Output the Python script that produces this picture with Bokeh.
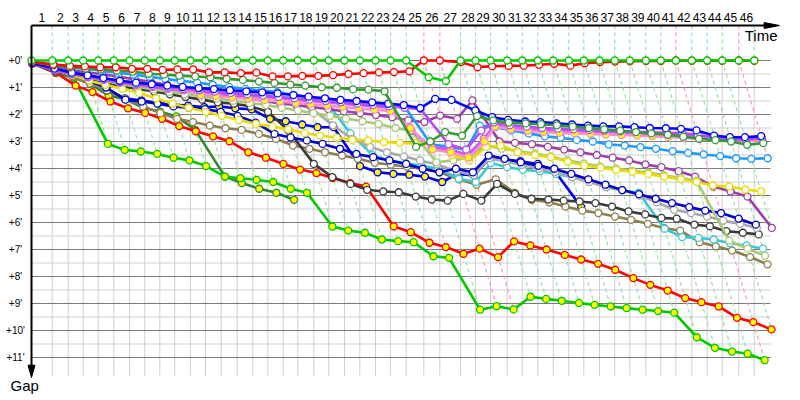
from bokeh.plotting import figure
from bokeh.models import Range1d, ColumnDataSource
from bokeh.embed import file_html
from bokeh.resources import INLINE
from bokeh.core.properties import value

# ---------------- data ----------------
# leader lap completion times (minutes from start), lap 0..46
LAP_TIME = [0.0, 2.59, 4.59, 6.46, 8.34, 10.29, 12.25, 14.16, 16.04, 17.91, 19.88,
            21.75, 23.71, 25.71, 27.66, 29.54, 31.46, 33.29, 35.29, 37.16, 39.13,
            41.04, 43.0, 44.88, 46.84, 49.04, 51.04, 53.63, 55.5, 57.38, 59.46,
            61.34, 63.29, 65.21, 67.16, 69.04, 71.0, 72.91, 74.79, 76.79, 78.66,
            80.54, 82.54, 84.46, 86.34, 88.41, 90.34]
LAP_LABELS = [str(k) for k in range(1, 47)]
RED_LAPS = [25, 26, 41, 45]
GAP_TICKS = list(range(0, 12))
GAP_LABELS = ["+%d'" % g for g in GAP_TICKS]

# gap to leader (minutes) at the end of each lap, lap 0..last
GAP_LEADER = [0.0] * 25 + [0.62, 0.76] + [0.0] * 20
GAP_RED = [0.05, 0.15, 0.2, 0.22, 0.25, 0.25, 0.31, 0.31, 0.35, 0.33, 0.33, 0.44, 0.44,
           0.47, 0.45, 0.59, 0.59, 0.57, 0.57, 0.54, 0.5, 0.47, 0.44, 0.43, 0.4, 0.0,
           0.0, 0.06, 0.25, 0.21, 0.2, 0.19, 0.16, 0.12, 0.19, 0.1, 0.06, 0.04, 0.03,
           0.02, 0.02, 0.0, 0.01, 0.01, 0.01, 0.0, 0.01]
GAP_DKGREEN = [0.05, 0.18, 0.25, 0.3, 0.33, 0.37, 0.41, 0.49, 0.52, 0.56, 0.59, 0.62,
               0.68, 0.72, 0.78, 0.83, 0.89, 0.93, 0.99, 1.01, 1.07, 1.08, 1.14, 3.2,
               3.0, 2.65, 2.78, 2.06, 2.22, 2.3, 2.33, 2.36, 2.4, 2.45, 2.5, 2.55, 2.6,
               2.65, 2.7, 2.75, 2.82, 2.9, 2.95, 3.0, 3.12, 3.06]
GAP_BLUE = [0.1, 0.3, 0.45, 0.55, 0.65, 0.75, 0.82, 0.88, 0.93, 0.98, 1.02, 1.06, 1.1,
            1.14, 1.18, 1.22, 1.28, 1.34, 1.4, 1.46, 1.5, 1.55, 1.6, 1.65, 1.76, 1.42,
            1.46, 1.85, 2.1, 2.2, 2.26, 2.28, 2.33, 2.37, 2.41, 2.44, 2.44, 2.47, 2.5,
            2.51, 2.53, 2.59, 2.78, 2.84, 2.84, 2.8]
GAP_VIOLET = [0.1, 0.35, 0.5, 0.6, 0.7, 0.8, 0.88, 0.95, 1.0, 1.05, 1.1, 1.15, 1.2,
              1.25, 1.3, 1.35, 1.4, 1.45, 1.5, 1.55, 1.6, 1.65, 1.7, 1.75, 1.8, 3.1,
              3.3, 2.6, 2.3, 2.4, 2.45, 2.5, 2.52, 2.55, 2.57, 2.6, 2.62, 2.64, 2.66,
              2.68, 2.7, 2.75, 2.85, 2.92, 2.92, 2.88]
GAP_PINK = [0.1, 0.32, 0.46, 0.58, 0.68, 0.78, 0.86, 0.94, 1.0, 1.06, 1.27, 1.32, 1.37,
            1.42, 1.47, 1.52, 1.57, 1.62, 1.67, 1.72, 1.77, 1.82, 1.87, 2.5, 3.3, 3.4,
            3.6, 3.0, 2.45, 2.55, 2.6, 2.65, 2.68, 2.7, 2.72, 2.74, 2.76, 2.78, 2.8,
            2.83, 2.86, 2.9, 2.92, 2.95, 2.97, 2.98]
GAP_MAGENTA = [0.1, 0.35, 0.5, 0.62, 0.72, 0.82, 0.9, 0.98, 1.05, 1.1, 1.15, 1.2, 1.25,
               1.3, 1.35, 1.4, 1.45, 1.5, 1.55, 1.6, 1.65, 1.7, 1.75, 2.6, 3.2, 3.3,
               3.5, 2.9, 2.4, 2.5, 2.55, 2.58, 2.6, 2.62, 2.64, 2.66, 2.68, 2.7, 2.72,
               2.74, 2.76, 2.8, 2.85, 2.9, 2.92, 2.9]
GAP_SKY = [0.1, 0.2, 0.25, 0.3, 0.38, 0.45, 0.52, 0.6, 0.68, 0.75, 0.82, 0.9, 0.98,
           1.05, 1.11, 1.17, 1.27, 1.37, 1.43, 1.47, 1.52, 1.6, 1.63, 1.67, 3.1, 3.2,
           3.3, 2.41, 2.47, 2.59, 2.7, 2.81, 2.86, 2.94, 3.0, 3.11, 3.15, 3.21, 3.27,
           3.36, 3.42, 3.48, 3.54, 3.62, 3.64, 3.62]
GAP_YELLOW = [0.1, 0.35, 0.55, 0.75, 0.9, 1.05, 1.2, 1.4, 1.6, 1.75, 1.9, 2.05, 2.2,
              2.35, 2.45, 2.55, 2.69, 2.78, 2.86, 2.94, 2.96, 3.02, 3.05, 3.07, 3.1,
              3.5, 3.7, 3.2, 3.15, 3.4, 3.5, 3.58, 3.75, 3.89, 3.97, 4.05, 4.12, 4.2,
              4.3, 4.4, 4.5, 4.63, 4.67, 4.78, 4.85]
GAP_YELLOWGREEN = [0.1, 0.32, 0.48, 0.62, 0.75, 0.87, 0.97, 1.07, 1.16, 1.25, 1.33,
                   1.41, 1.49, 1.57, 1.65, 1.75, 1.85, 1.95, 2.05, 2.15, 2.25, 2.35,
                   2.5, 2.6, 3.77, 3.7, 3.58, 3.15, 3.27, 3.35, 3.45, 3.55, 3.7,
                   3.82, 3.92, 4.0, 4.08, 4.15, 4.25, 4.35, 4.45, 6.67, 6.97, 7.23]
GAP_PURPLE = [0.1, 0.25, 0.35, 0.45, 0.5, 0.6, 0.7, 0.8, 0.9, 1.0, 1.1, 1.2, 1.3, 1.4,
              1.5, 1.6, 1.65, 1.72, 1.8, 1.88, 1.95, 2.02, 2.1, 2.22, 2.28, 2.04, 2.16,
              1.48, 3.0, 3.05, 3.1, 3.2, 3.3, 3.4, 3.5, 3.6, 3.7, 3.85, 3.95, 4.1, 4.3,
              4.67, 4.85, 5.04, 6.2]
GAP_MEDBLUE = [0.1, 0.35, 0.55, 0.75, 1.0, 1.45, 1.52, 1.6, 1.7, 1.75, 1.8, 1.9, 2.05,
               2.3, 2.72, 2.85, 2.96, 3.09, 3.27, 3.46, 3.58, 3.7, 3.83, 4.01, 4.14,
               4.01, 4.14, 3.52, 3.64, 3.77, 3.9, 4.01, 4.2, 4.4, 4.6, 4.8, 4.95, 5.12,
               5.28, 5.43, 5.56, 5.65, 5.86, 6.08]
GAP_LTGRAY = [0.1, 0.35, 0.5, 0.62, 0.73, 0.83, 0.92, 1.0, 1.08, 1.15, 1.22, 1.28, 1.34,
              1.4, 1.46, 1.52, 1.6, 1.8, 2.4, 2.9, 3.2, 3.4, 3.55, 3.7, 3.85, 4.1, 4.25,
              3.62, 3.74, 3.87, 4.0, 4.12, 4.32, 4.5, 4.69, 4.79, 5.0, 5.25, 5.53, 5.65,
              5.78, 5.93, 6.05, 6.2]
GAP_DKGRAY = [0.1, 0.4, 0.55, 0.7, 0.85, 0.95, 1.05, 1.15, 1.25, 1.35, 1.45, 1.55, 1.6,
              1.7, 1.9, 2.6, 3.83, 4.32, 4.57, 4.79, 4.85, 4.88, 5.04, 5.15, 5.19, 4.94,
              5.19, 4.57, 4.94, 5.12, 5.15, 5.19, 5.22, 5.28, 5.41, 5.59, 5.7, 5.83,
              5.86, 6.08, 6.14, 6.32, 6.38, 6.44]
GAP_TURQ = [0.1, 0.3, 0.45, 0.55, 0.65, 0.75, 0.85, 0.95, 1.0, 1.05, 1.1, 1.15, 1.2,
            1.25, 1.3, 1.35, 1.4, 1.45, 1.5, 2.7, 3.5, 3.7, 3.8, 3.9, 4.0, 4.38, 4.5,
            3.8, 3.95, 4.05, 4.1, 4.2, 4.32, 4.44, 4.69, 4.81, 4.9, 6.23, 6.54, 6.57,
            6.63, 6.77, 6.85, 6.97]
GAP_OLIVE = [0.1, 0.4, 0.6, 0.85, 1.1, 1.4, 1.7, 1.95, 2.16, 2.28, 2.41, 2.51, 2.57,
             2.72, 2.9, 3.15, 3.27, 3.4, 3.52, 3.64, 3.79, 3.86, 3.93, 4.01, 4.14, 4.4,
             4.6, 4.4, 4.9, 5.16, 5.25, 5.41, 5.56, 5.65, 5.78, 5.9, 6.05, 6.21, 6.3,
             6.73, 6.88, 7.04, 7.28, 7.55]
GAP_RED2 = [0.1, 0.45, 0.93, 1.17, 1.52, 1.77, 1.94, 2.16, 2.43, 2.62, 2.81, 2.99, 3.4,
            3.6, 3.83, 4.04, 4.17, 4.35, 4.54, 4.67, 6.14, 6.36, 6.75, 6.91, 7.16, 6.97,
            7.28, 6.7, 6.85, 7.0, 7.2, 7.37, 7.53, 7.75, 8.06, 8.31, 8.52, 8.8, 8.95,
            9.11, 9.53, 9.69, 9.96]
GAP_GREEN2 = [0.1, 0.35, 0.6, 3.09, 3.31, 3.37, 3.46, 3.6, 3.7, 3.91, 4.3, 4.36, 4.42,
              4.5, 4.75, 4.9, 6.15, 6.3, 6.38, 6.63, 6.69, 6.73, 7.25, 7.31, 9.23, 9.1,
              9.22, 8.75, 8.83, 8.9, 8.98, 9.05, 9.11, 9.17, 9.23, 9.28, 9.34, 10.25,
              10.64, 10.78, 10.86, 11.1]
GAP_BLUE2 = [0.1, 0.35, 0.55, 0.8, 1.11, 1.4, 1.48, 1.57, 1.63, 1.67, 1.73, 1.7, 1.77,
             1.81, 2.16, 2.25, 2.37, 2.47, 2.47, 3.91, 4.14, 4.2, 4.23, 4.3, 4.5, 4.2,
             4.26, 3.62, 3.68, 3.73, 3.83, 4.11, 5.43]
GAP_DKGREEN2 = [0.1, 0.47, 0.64, 0.86, 1.3, 1.44, 1.75, 1.89, 2.07, 2.57, 4.3, 4.54,
                4.75, 4.9, 5.16]

# ---------------- styles (series drawn back to front) ----------------
YEL = "#FFFF00"
WHT = "#FFFFFF"
SERIES = [
    (GAP_DKGREEN2, "#2E8B2E", YEL),
    (GAP_BLUE2, "#0000E6", YEL),
    (GAP_GREEN2, "#00C800", YEL),
    (GAP_RED2, "#FF0000", YEL),
    (GAP_OLIVE, "#8C7F52", WHT),
    (GAP_TURQ, "#3CC8D2", WHT),
    (GAP_DKGRAY, "#3A3A3A", WHT),
    (GAP_LTGRAY, "#A8A8A8", WHT),
    (GAP_MEDBLUE, "#0000CD", WHT),
    (GAP_PURPLE, "#9B40A8", WHT),
    (GAP_YELLOWGREEN, "#A8C878", WHT),
    (GAP_YELLOW, "#E6DC00", WHT),
    (GAP_SKY, "#1E9BFF", WHT),
    (GAP_MAGENTA, "#CC55FF", YEL),
    (GAP_PINK, "#FF8CC8", YEL),
    (GAP_VIOLET, "#B050F0", WHT),
    (GAP_BLUE, "#0000FF", WHT),
    (GAP_DKGREEN, "#339933", WHT),
    (GAP_RED, "#FF0000", WHT),
    (GAP_LEADER, "#00C800", WHT),
]

# ---------------- geometry ----------------
PX_PER_MIN_X = 8.0
PX_PER_MIN_Y = 27.0
W, H = 800, 400
X_ORIGIN_PX = 31.0     # canvas px of time 0
Y_ORIGIN_PX = 60.0     # canvas px of gap 0
x0 = -X_ORIGIN_PX / PX_PER_MIN_X
y0 = -Y_ORIGIN_PX / PX_PER_MIN_Y
XR = Range1d(x0, x0 + W / PX_PER_MIN_X)
YR = Range1d(y0 + H / PX_PER_MIN_Y, y0)   # gap grows downward


def px_t(px):
    return (px - X_ORIGIN_PX) / PX_PER_MIN_X


def px_g(py):
    return (py - Y_ORIGIN_PX) / PX_PER_MIN_Y


AXIS_GAP = px_g(25)
GRID_END_T = px_t(770)
GRID_BOTTOM = px_g(375)

p = figure(width=W, height=H, x_range=XR, y_range=YR, output_backend="svg",
           toolbar_location=None, x_axis_type=None, y_axis_type=None, min_border=0)
p.outline_line_color = None
p.background_fill_color = "white"

# horizontal grid
minor = [g + 0.5 for g in GAP_TICKS[:-1]]
p.multi_line(xs=[[0, GRID_END_T] for _ in minor], ys=[[g, g] for g in minor],
             line_color="#CFCFCF", line_width=1)
# vertical grid at leader lap times
p.multi_line(xs=[[t, t] for t in LAP_TIME[1:]], ys=[[0, GRID_BOTTOM] for _ in LAP_TIME[1:]],
             line_color="#CFCFCF", line_width=1)
p.multi_line(xs=[[0, GRID_END_T] for _ in GAP_TICKS], ys=[[g, g] for g in GAP_TICKS],
             line_color="#7A7A7A", line_width=1)

# lap lines: vertical above the leader, then along x = t_lap + gap
all_gaps = [s[0] for s in SERIES]
gxs, gys, rxs, rys = [], [], [], []
for k in range(1, len(LAP_TIME)):
    gmax = max(g[k] for g in all_gaps if len(g) > k)
    xs = [LAP_TIME[k], LAP_TIME[k], LAP_TIME[k] + gmax]
    ys = [AXIS_GAP, 0, gmax]
    if k in RED_LAPS:
        rxs.append(xs); rys.append(ys)
    else:
        gxs.append(xs); gys.append(ys)
p.multi_line(xs=gxs, ys=gys, line_color="#9BE39B", line_width=1.2, line_dash="4 3")
p.multi_line(xs=rxs, ys=rys, line_color="#FF9E9E", line_width=1.2, line_dash="4 3")

# series
for gaps, color, fill in SERIES:
    xs = [LAP_TIME[k] + g for k, g in enumerate(gaps)]
    src = ColumnDataSource(dict(x=xs, y=list(gaps)))
    p.line("x", "y", source=src, line_color=color, line_width=2.6)
    p.scatter("x", "y", source=src, size=7, marker="circle", fill_color=fill,
              line_color=color, line_width=1.3)

# axes with arrows
AX_END_T = px_t(766)
p.line([0, AX_END_T], [AXIS_GAP, AXIS_GAP], line_color="black", line_width=2)
tip_t = px_t(779)
p.patch([AX_END_T - 0.3, tip_t, AX_END_T - 0.3],
        [AXIS_GAP - 3.0 / PX_PER_MIN_Y, AXIS_GAP, AXIS_GAP + 3.0 / PX_PER_MIN_Y],
        fill_color="black", line_color="black")
AX_BOTTOM = px_g(366)
tip_g = px_g(377)
p.line([0, 0], [AXIS_GAP, AX_BOTTOM], line_color="black", line_width=2)
p.patch([-3.5 / PX_PER_MIN_X, 0, 3.5 / PX_PER_MIN_X], [AX_BOTTOM - 0.05, tip_g, AX_BOTTOM - 0.05],
        fill_color="black", line_color="black")

FONT = value("Liberation Sans")
mids = [(LAP_TIME[k - 1] + LAP_TIME[k]) / 2 for k in range(1, len(LAP_TIME))]
p.text(x=mids, y=[px_g(17)] * len(mids), text=LAP_LABELS,
       text_font=FONT, text_font_size="12px", text_align="center",
       text_baseline="middle", text_color="black")
p.text(x=[px_t(15)] * len(GAP_TICKS), y=GAP_TICKS, text=GAP_LABELS,
       text_font=FONT, text_font_size="10px", text_align="center",
       text_baseline="middle", text_color="black")
p.text(x=[px_t(777)], y=[px_g(35)], text=["Time"],
       text_font=FONT, text_font_size="15px", text_align="right",
       text_baseline="middle", text_color="black")
p.text(x=[px_t(10)], y=[px_g(385)], text=["Gap"],
       text_font=FONT, text_font_size="15px", text_align="left",
       text_baseline="middle", text_color="black")

open("out.html", "w").write(file_html(p, INLINE))
